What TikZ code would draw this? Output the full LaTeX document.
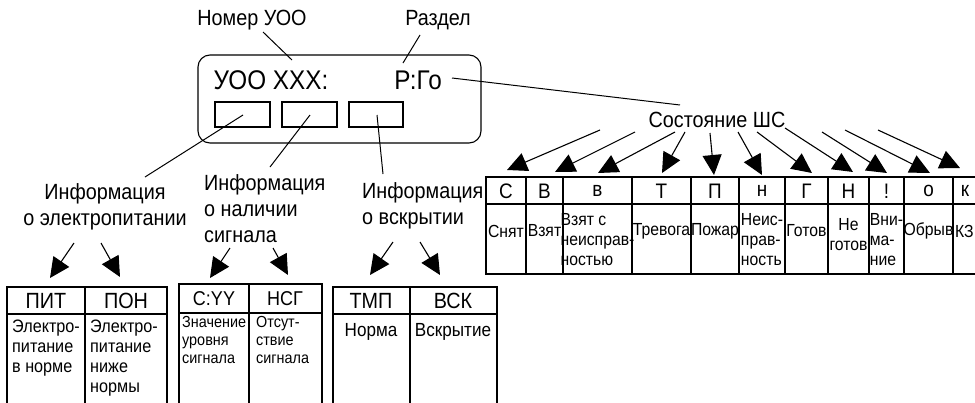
\documentclass[tikz,border=0pt]{standalone}
\usepackage{fontspec}
\setmainfont{Liberation Sans}[FakeStretch=0.9]
\usepackage{tikz}
\usetikzlibrary{arrows.meta}

\tikzset{
  lbl/.style={font=\fontsize{22}{26}\selectfont, inner sep=0pt},
  arr/.style={line width=1.1pt, -{Triangle[length=20pt,width=19pt]}},
  lead/.style={line width=1pt},
  frame/.style={line width=1.1pt},
  hdr/.style={font=\fontsize{21}{22}\selectfont, inner sep=0pt},
  cell/.style={font=\fontsize{17.5}{20}\selectfont, inner sep=0pt},
  bhdr/.style={font=\fontsize{22}{24}\selectfont, inner sep=0pt},
}

\begin{document}
\begin{tikzpicture}[x=1pt,y=-1pt]
        % picture 975 x 402, y grows downwards
        \clip (0,0) rectangle (975,402);

        % display with the three small fields
        \draw[frame, rounded corners=12pt] (198,55) rectangle (481,143);
        \node[font=\fontsize{27}{30}\selectfont, inner sep=0pt] (uoo) at (271,80) {УОО XXX:};
        \node[font=\fontsize{27}{30}\selectfont, inner sep=0pt] (part) at (418,80) {Р:Го};
        \draw[frame] (215,102) rectangle (270,127) node[midway] (f1) {};
        \draw[frame] (282,102) rectangle (337,127) node[midway] (f2) {};
        \draw[frame] (349,102) rectangle (403,127) node[midway] (f3) {};

        % captions
        \node[lbl] (nomer) at (252,20) {Номер УОО};
        \node[lbl] (razdel) at (438,20) {Раздел};
        \node[lbl, align=center] (power) at (105,207) {Информация\\о электропитании};
        \node[lbl, align=left, anchor=west] (signal) at (204,209) {Информация\\о наличии\\сигнала};
        \node[lbl, align=left, anchor=west] (opened) at (362,206) {Информация\\о вскрытии};
        \node[lbl] (state) at (717,120) {Состояние ШС};

        % ends of the leader lines
        \coordinate (n1) at (263,32);  \coordinate (n2) at (292,60);
        \coordinate (r1) at (420,35);  \coordinate (r2) at (403,63);
        \coordinate (p1) at (452,78);  \coordinate (p2) at (680,105);
        \coordinate (a1) at (243,115); \coordinate (a2) at (145,177);
        \coordinate (b1) at (310,115); \coordinate (b2) at (270,167);
        \coordinate (c1) at (377,115); \coordinate (c2) at (383,174);

        \draw[lead] (n1) -- (n2);
        \draw[lead] (r1) -- (r2);
        \draw[lead] (p1) -- (p2);
        \draw[lead] (a1) -- (a2);
        \draw[lead] (b1) -- (b2);
        \draw[lead] (c1) -- (c2);

        % table of loop states
        \foreach \xa/\xb/\hd/\yb/\al/\bd [count=\i] in {
            486/526/С/231/center/{Снят}, 526/563/В/231/center/{Взят},
            563/632/в/240/left/{Взят с\\неисправ-\\ностью}, 632/691/Т/231/center/{Тревога},
            691/739/П/231/center/{Пожар}, 739/785/н/240/left/{Неис-\\прав-\\ность},
            785/828/Г/231/center/{Готов}, 828/869/Н/235/center/{Не\\готов},
            869/904/!/240/left/{Вни-\\ма-\\ние}, 904/953/о/231/center/{Обрыв},
            953/977/к/231/center/{}} {
          \draw[frame] (\xa,177) rectangle (\xb,274);
          \draw[frame] (\xa,204) -- (\xb,204);
          \node[hdr] (sh\i) at ({(\xa+\xb)/2},191) {\hd};
          \node[cell, align=\al] (sb\i) at ({(\xa+\xb)/2},\yb) {\bd};
        }
        \node[cell, anchor=west] (kz) at (955,231) {КЗ};

        % arrows from the state caption
        \foreach \sx/\sy/\tx/\ty [count=\i] in {
            600/130/507/170, 635/132/555/172, 675/132/598/173,
            685/132/662/173, 710/133/714/175, 738/132/762/175,
            757/132/812/173, 785/128/853/172, 822/132/887/173,
            845/130/930/173, 878/130/960/168} {
          \coordinate (s\i) at (\sx,\sy);
          \coordinate (t\i) at (\tx,\ty);
          \draw[arr] (s\i) -- (t\i);
        }

        % lower tables
        \draw[frame] (7,287) rectangle (167,410);
        \draw[frame] (85,287) -- (85,410);
        \draw[frame] (7,314) -- (167,314);
        \draw[frame] (179,284) rectangle (322,410);
        \draw[frame] (249,284) -- (249,410);
        \draw[frame] (179,313) -- (322,313);
        \draw[frame] (333,287) rectangle (497,410);
        \draw[frame] (410,287) -- (410,410);
        \draw[frame] (333,314) -- (497,314);

        \node[bhdr] (pit) at (46,301) {ПИТ};
        \node[bhdr] (pon) at (126,301) {ПОН};
        \node[font=\fontsize{20}{22}\selectfont, inner sep=0pt] (cyy) at (214,299) {С:YY};
        \node[font=\fontsize{20}{22}\selectfont, inner sep=0pt] (nsg) at (285,299) {НСГ};
        \node[bhdr] (tmp) at (371,301) {ТМП};
        \node[bhdr] (vsk) at (453,301) {ВСК};

        \node[font=\fontsize{18}{20}\selectfont, inner sep=0pt, align=left, anchor=north west]
          (pit1) at (12,320) {Электро-\\питание\\в норме};
        \node[font=\fontsize{18}{20}\selectfont, inner sep=0pt, align=left, anchor=north west]
          (pon1) at (90,320) {Электро-\\питание\\ниже\\нормы};
        \node[font=\fontsize{16}{18}\selectfont, inner sep=0pt, align=left, anchor=north west]
          (cyy1) at (182,316) {Значение\\уровня\\сигнала};
        \node[font=\fontsize{16}{18}\selectfont, inner sep=0pt, align=left, anchor=north west]
          (nsg1) at (256,316) {Отсут-\\ствие\\сигнала};
        \node[font=\fontsize{19}{20}\selectfont, inner sep=0pt] (tmp1) at (371,332) {Норма};
        \node[font=\fontsize{19}{20}\selectfont, inner sep=0pt] (vsk1) at (453,332) {Вскрытие};

        % arrows to the lower tables
        \coordinate (u1) at (74,243);  \coordinate (v1) at (50,278);
        \coordinate (u2) at (101,243); \coordinate (v2) at (120,277);
        \coordinate (u3) at (230,248); \coordinate (v3) at (210,278);
        \coordinate (u4) at (273,248); \coordinate (v4) at (288,275);
        \coordinate (u5) at (393,242); \coordinate (v5) at (370,275);
        \coordinate (u6) at (420,242); \coordinate (v6) at (440,275);
        \foreach \i in {1,...,6} \draw[arr] (u\i) -- (v\i);
\end{tikzpicture}
\end{document}
